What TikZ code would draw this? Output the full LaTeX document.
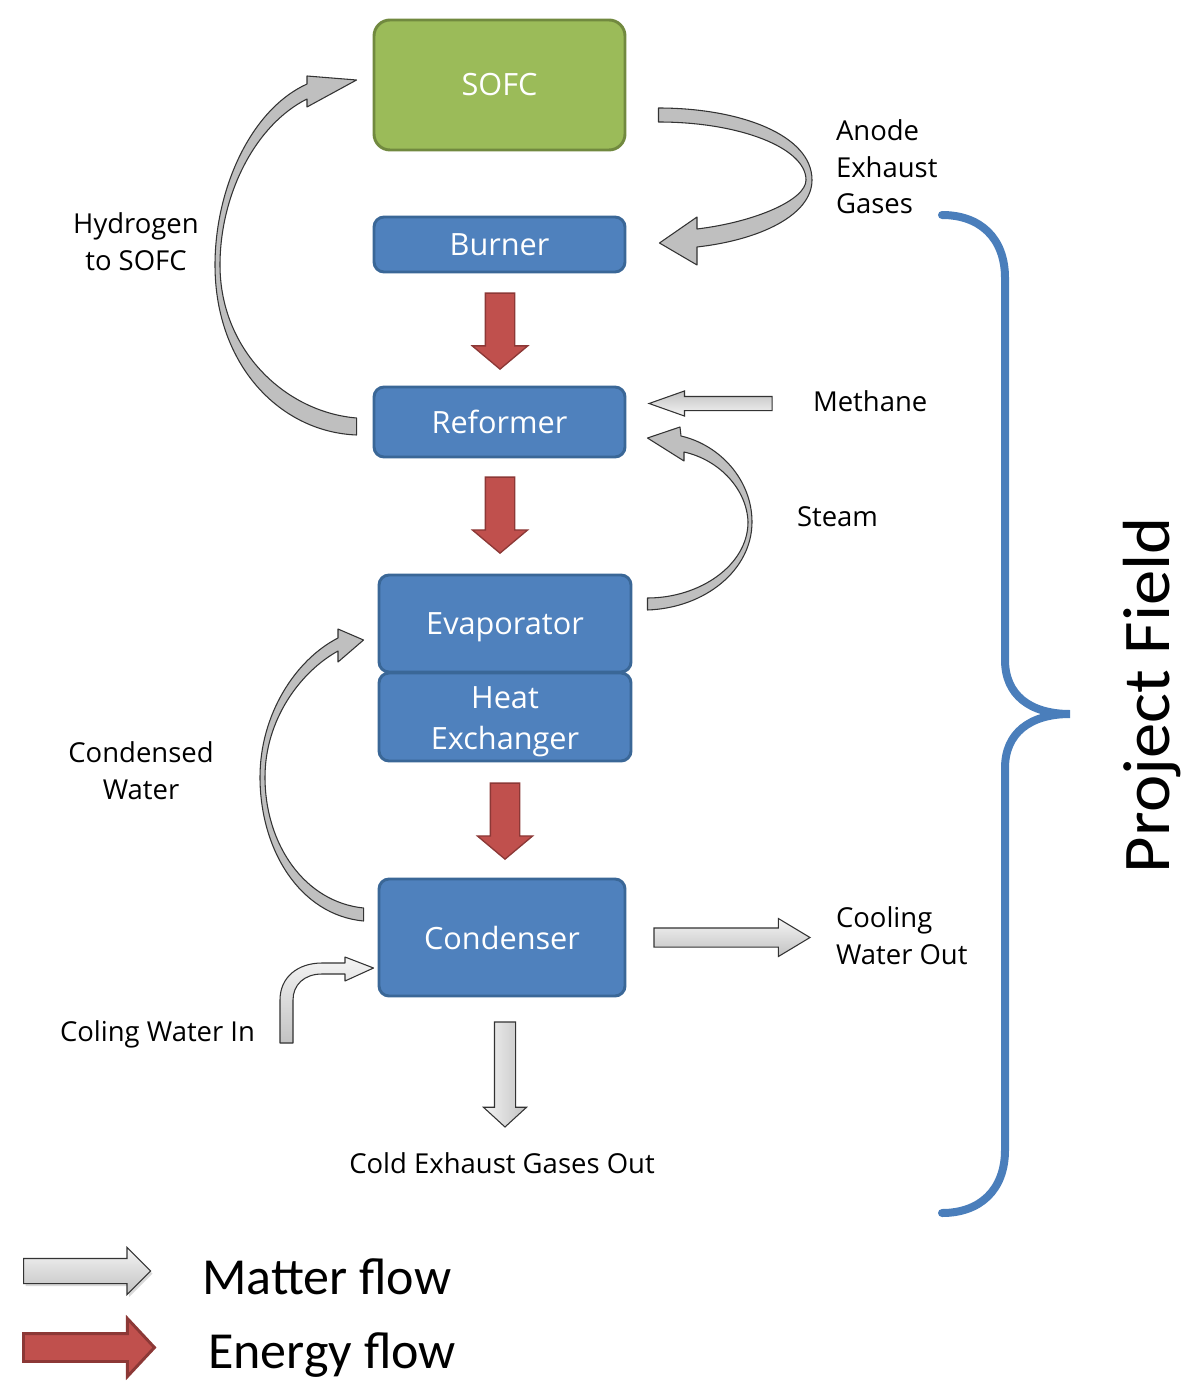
\documentclass[tikz,border=0pt]{standalone}
\usepackage{fontspec}
\setmainfont{Open Sans}
\newfontfamily\calib{Carlito}
\usepackage{tikz}
\usetikzlibrary{positioning,calc,shapes.arrows,shadows}
\newlength{\pix}
\setlength{\pix}{0.75pt}
\definecolor{unitblue}{HTML}{4F81BD}
\definecolor{unitblueline}{HTML}{3A6797}
\definecolor{cellgreen}{HTML}{9BBB59}
\definecolor{cellgreenline}{HTML}{71893F}
\definecolor{heatred}{HTML}{C0504D}
\definecolor{heatredline}{HTML}{8C3836}
\definecolor{flowlight}{HTML}{F4F4F4}
\definecolor{flowdark}{HTML}{C2C2C2}
\definecolor{flowgray}{HTML}{BFBFBF}
\definecolor{flowline}{HTML}{333333}
\definecolor{bracket}{HTML}{4A7EBB}
\tikzset{
  unit/.style     = {draw=unitblueline, fill=unitblue, line width=2.2pt, rounded corners=10\pix,
                     font=\fontsize{23}{31}\selectfont\color{white}, align=center, inner sep=0pt},
  cell/.style     = {unit, draw=cellgreenline, fill=cellgreen, rounded corners=16\pix},
  lab/.style      = {font=\fontsize{20.6}{27.5}\selectfont, inner sep=0pt, outer sep=0pt},
  legend/.style   = {font=\fontsize{39}{44}\selectfont\calib, anchor=west, inner sep=0pt},
  heatflow/.style = {single arrow, draw=heatredline, fill=heatred, line width=1pt,
                     inner xsep=0pt, inner ysep=14\pix, minimum width=0pt, minimum height=76\pix,
                     single arrow head extend=13\pix, single arrow tip angle=100},
  matterflow/.style = {single arrow, draw=flowline, top color=flowlight, bottom color=flowdark,
                     line width=0.8pt, inner xsep=0pt, minimum width=0pt},
  loopflow/.style = {fill=flowgray, draw=flowline, line width=0.8pt, line join=round},
}

\begin{document}
\begin{tikzpicture}[x=0.75pt,y=-0.75pt]
\path[use as bounding box] (0,0) rectangle (1186,1383);

% ---- units ---------------------------------------------------------------
\node[cell, minimum width=251\pix, minimum height=130\pix] (sofc) at (499.5,85) {SOFC};
\node[unit, minimum width=251\pix, minimum height=55\pix]  (burner) at (499.5,244.5) {Burner};
\node[unit, minimum width=251\pix, minimum height=70\pix]  (reformer) at (499.5,422) {Reformer};
\node[unit, minimum width=252\pix, minimum height=97\pix, text depth=0pt] (evap) at (505,623.5) {Evaporator};
\node[unit, minimum width=252\pix, minimum height=88\pix,
      label={[font=\fontsize{23}{31}\selectfont\color{white}, align=center, inner sep=0pt,
              yshift=-5\pix]center:{Heat\\Exchanger}}] (hx) at (505,717) {};
\node[unit, minimum width=246\pix, minimum height=117\pix] (condenser) at (502,937.5) {Condenser};

% ---- energy flow -----------------------------------------------------------
\node[heatflow, rotate=-90, anchor=tail] (heat1) at ($(burner.south)+(0.5,19)$) {};
\node[heatflow, rotate=-90, anchor=tail] (heat2) at ($(reformer.south)+(0.5,18)$) {};
\node[heatflow, rotate=-90, anchor=tail] (heat3) at ($(hx.south)+(0,20)$) {};

% ---- matter flow -----------------------------------------------------------
% hydrogen: reformer -> sofc
\path[loopflow] ($(reformer.west)+(-16,-4)$) .. controls (285,412) and (220,350) .. (220,265)
  .. controls (220,195) and (255,125) .. (307,99) -- (307,107) -- ($(sofc.west)+(-16,-5)$)
  -- (307,76) -- (307,84) .. controls (250,110) and (215,190) .. (215,265)
  .. controls (215,365) and (280,432) .. ($(reformer.west)+(-16,13)$) -- cycle;

% anode exhaust: sofc -> burner
\path[loopflow] ($(sofc.east)+(32,23)$) .. controls (740,108) and (812,135) .. (812,180)
  .. controls (812,215) and (760,240) .. (697,247) -- (697,265) -- ($(burner.east)+(33,-1.5)$)
  -- (697,217) -- (697,229) .. controls (755,222) and (806,200) .. (806,180)
  .. controls (806,148) and (740,122) .. ($(sofc.east)+(32,37)$) -- cycle;

% steam: evaporator -> reformer
\path[loopflow] ($(evap.east)+(15,-13.5)$) .. controls (705,608) and (752,570) .. (752,522)
  .. controls (752,480) and (720,445) .. (681,436) -- (680,427) -- ($(reformer.east)+(21,16)$)
  -- (684,461) -- (684,452) .. controls (720,460) and (747,490) .. (748,522)
  .. controls (748,565) and (700,598) .. ($(evap.east)+(15,-25.5)$) -- cycle;

% condensed water: condenser -> evaporator
\path[loopflow] ($(condenser.west)+(-14,-16.5)$) .. controls (300,915) and (260,850) .. (260,777)
  .. controls (260,715) and (295,660) .. (338,638) -- (338,629) -- ($(evap.west)+(-14,16.5)$)
  -- (338,662) -- (338,651) .. controls (300,672) and (265,720) .. (265,777)
  .. controls (265,845) and (305,902) .. ($(condenser.west)+(-14,-29.5)$) -- cycle;

% cooling water in
\path[loopflow, top color=flowlight, bottom color=flowdark] (280,1043) -- (280,1000)
  .. controls (280,977) and (298,963) .. (322,963) -- (345,963) -- (345,957)
  -- ($(condenser.west)+(-4,30.5)$) -- (345,981) -- (345,974) -- (322,974)
  .. controls (304,974) and (293,985) .. (293,1000) -- (293,1043) -- cycle;

\node[matterflow, rotate=180, anchor=tip, top color=flowdark, bottom color=flowlight,
      inner ysep=6.5\pix, minimum height=123\pix, single arrow head extend=5.5\pix,
      single arrow tip angle=39] (methanein) at ($(reformer.east)+(21,-18.5)$) {};
\node[matterflow, anchor=tail, inner ysep=9\pix, minimum height=156\pix,
      single arrow head extend=9.5\pix, single arrow tip angle=62] (coolout) at ($(condenser.east)+(27,0)$) {};
\node[matterflow, rotate=-90, anchor=tail, left color=flowlight, right color=flowdark,
      inner ysep=10\pix, minimum height=105\pix, single arrow head extend=11\pix,
      single arrow tip angle=95] (exhaustout) at ($(condenser.south)+(3,24)$) {};

% ---- labels ----------------------------------------------------------------
\node[lab, align=center] (lblhydro) at (136,242) {Hydrogen\\to SOFC};
\node[lab, align=left, anchor=west] (lblanode) at (836,167) {Anode\\Exhaust\\Gases};
\node[lab, anchor=west] (lblmethane) at (813,401) {Methane};
\node[lab, anchor=west] (lblsteam) at (797,517) {Steam};
\node[lab, align=center] (lblcondensed) at (141,771) {Condensed\\Water};
\node[lab, align=left, anchor=west] (lblcoolout) at (836,936) {Cooling\\Water Out};
\node[lab, anchor=west] (lblcoolin) at (60,1034) {Coling Water In};
\node[lab] (lblexhaust) at (502,1163) {Cold Exhaust Gases Out};

% ---- project field -----------------------------------------------------------
\draw[bracket, line width=6pt, line cap=round] (942,215) .. controls (980,215) and (1005,238) .. (1005,278)
  -- (1005,660) .. controls (1005,695) and (1030,714) .. (1070,714)
  .. controls (1030,714) and (1005,733) .. (1005,768) -- (1005,1150)
  .. controls (1005,1190) and (980,1213) .. (942,1213);
\node[font=\fontsize{50}{54}\selectfont\calib, rotate=90, inner sep=0pt, xscale=1.06] (lblfield) at (1152,695) {Project Field};

% ---- legend ----------------------------------------------------------------
\node[matterflow, anchor=tail, inner ysep=12\pix, minimum height=127\pix,
      single arrow head extend=11\pix, single arrow tip angle=90,
      drop shadow={opacity=0.3, shadow xshift=1.5pt, shadow yshift=-2pt}] (keymatter) at (23,1271) {};
\node[heatflow, anchor=tail, line width=2.2pt, inner ysep=12.5\pix, minimum height=131\pix,
      single arrow head extend=15\pix, single arrow tip angle=94] (keyenergy) at (22,1347.5) {};
\node[legend] (lblmatter) at (202,1277) {Matter flow};
\node[legend] (lblenergy) at (208,1355) {Energy flow};

\end{tikzpicture}
\end{document}
